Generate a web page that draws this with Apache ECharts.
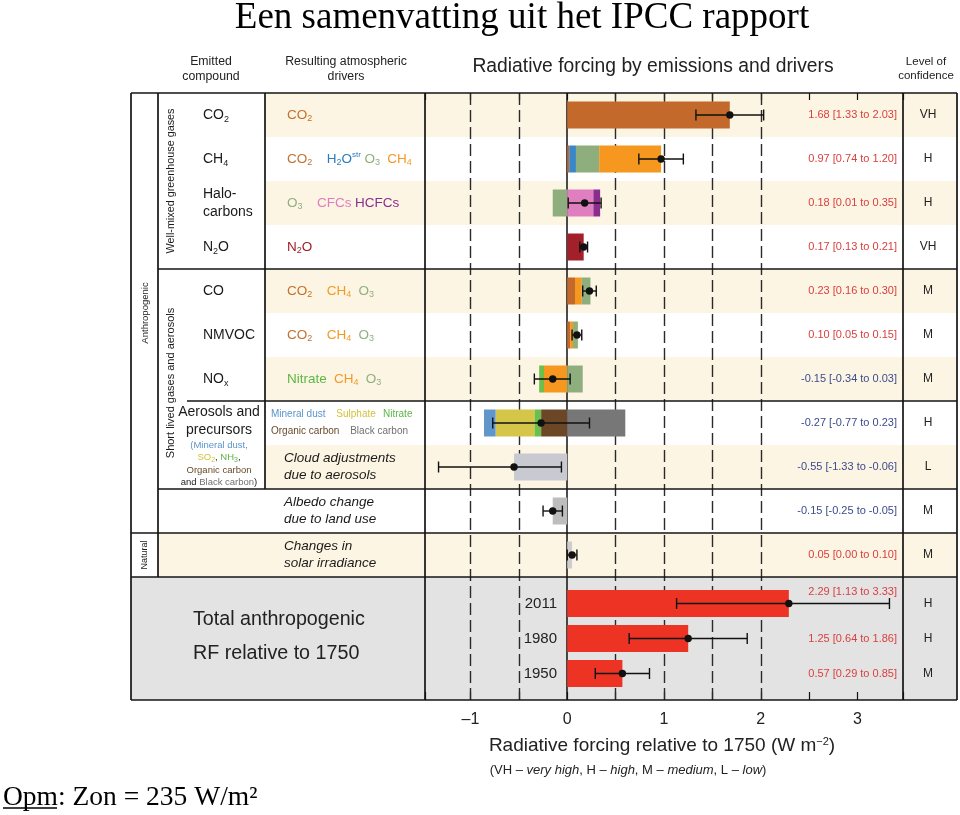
<!DOCTYPE html>
<html><head><meta charset="utf-8">
<script src="https://cdn.jsdelivr.net/npm/echarts@6/dist/echarts.min.js"></script>
<style>html,body{margin:0;padding:0;background:#fff}#c{width:960px;height:815px}</style>
</head><body><div id="c"></div>
<script>
// ---------------- data ----------------
const rows = ['CO2','CH4','Halocarbons','N2O','CO','NMVOC','NOx','Aerosols','Cloud','Albedo','Solar'];
const drvCO2     = [1.68, 0.02, '-', '-', 0.08, 0.03, '-', '-', '-', '-', '-'];
const drvH2Ostr  = ['-', 0.07, '-', '-', '-', '-', '-', '-', '-', '-', '-'];
const drvCH4ind  = ['-', '-', '-', '-', 0.07, 0.03, -0.24, '-', '-', '-', '-'];
const drvO3      = ['-', 0.24, -0.15, '-', 0.09, 0.05, 0.16, '-', '-', '-', '-'];
const drvCH4     = ['-', 0.64, '-', '-', '-', '-', '-', '-', '-', '-', '-'];
const drvCFCs    = ['-', '-', 0.27, '-', '-', '-', '-', '-', '-', '-', '-'];
const drvHCFCs   = ['-', '-', 0.07, '-', '-', '-', '-', '-', '-', '-', '-'];
const drvN2O     = ['-', '-', '-', 0.17, '-', '-', '-', '-', '-', '-', '-'];
const drvOrgC    = ['-', '-', '-', '-', '-', '-', '-', -0.27, '-', '-', '-'];
const drvNitrate = ['-', '-', '-', '-', '-', '-', -0.05, -0.07, '-', '-', '-'];
const drvSulph   = ['-', '-', '-', '-', '-', '-', '-', -0.40, '-', '-', '-'];
const drvDust    = ['-', '-', '-', '-', '-', '-', '-', -0.12, '-', '-', '-'];
const drvBlackC  = ['-', '-', '-', '-', '-', '-', '-', 0.60, '-', '-', '-'];
const drvCloud   = ['-', '-', '-', '-', '-', '-', '-', '-', -0.55, '-', '-'];
const drvAlbedo  = ['-', '-', '-', '-', '-', '-', '-', '-', '-', -0.15, '-'];
const drvSolar   = ['-', '-', '-', '-', '-', '-', '-', '-', '-', '-', 0.05];
const rfBest = [1.68, 0.97, 0.18, 0.17, 0.23, 0.10, -0.15, -0.27, -0.55, -0.15, 0.05];
const rfLow  = [1.33, 0.74, 0.01, 0.13, 0.16, 0.05, -0.34, -0.77, -1.33, -0.25, 0.00];
const rfHigh = [2.03, 1.20, 0.35, 0.21, 0.30, 0.15, 0.03, 0.23, -0.06, -0.05, 0.10];
const confidence = ['VH','H','H','VH','M','M','M','H','L','M','M'];
const years   = ['2011','1980','1950'];
const totBest = [2.29, 1.25, 0.57];
const totLow  = [1.13, 0.64, 0.29];
const totHigh = [3.33, 1.86, 0.85];
const totConf = ['H','H','M'];
const xTickLabels = [-1, 0, 1, 2, 3];
const refLines = [-1, -0.5, 0.5, 1, 1.5, 2];

// ---------------- styles ----------------
const SANS = '"Liberation Sans", Arial, Helvetica, sans-serif';
const SERIF = '"Liberation Serif", "Times New Roman", serif';
const COL = {
  CO2:'#c2692b', H2Ostr:'#3a86c6', O3:'#8fae7d', CH4:'#f6971f', CH4ind:'#f6971f', CFCs:'#df7fbf', HCFCs:'#8b2c8e',
  N2O:'#a1202a', OrgC:'#6c4727', Nitrate:'#6cbf4a', Sulph:'#d5c64a', Dust:'#5f97cb', BlackC:'#777777',
  Cloud:'#c9c9d2', Albedo:'#bdbdbd', Solar:'#cdcdcd', Total:'#ec3324'
};
const drivers = [
  ['CO2', drvCO2], ['H2Ostr', drvH2Ostr], ['CH4ind', drvCH4ind], ['O3', drvO3], ['CH4', drvCH4], ['CFCs', drvCFCs],
  ['HCFCs', drvHCFCs], ['N2O', drvN2O], ['OrgC', drvOrgC], ['Nitrate', drvNitrate], ['Sulph', drvSulph],
  ['Dust', drvDust], ['BlackC', drvBlackC], ['Cloud', drvCloud], ['Albedo', drvAlbedo], ['Solar', drvSolar]
];
const RED = '#d9403f', BLUE = '#3b4b8e';
const fmt = v => v.toFixed(2);
const valueLabel = (b, l, h, up) => `{${(b < 0 ? 'b' : 'r') + (up ? 'u' : '')}|${fmt(b)} [${fmt(l)} to ${fmt(h)}]}`;
const VALRICH = {
  r:{color:RED, fontSize:11, fontFamily:SANS}, b:{color:BLUE, fontSize:11, fontFamily:SANS},
  ru:{color:RED, fontSize:11, fontFamily:SANS, padding:[0,0,23,0]}, bu:{color:BLUE, fontSize:11, fontFamily:SANS, padding:[0,0,23,0]}
};

function errRender(params, api) {
  const y = api.value(1);
  const pB = api.coord([api.value(0), y]);
  const pL = api.coord([api.value(2), y]);
  const pH = api.coord([api.value(3), y]);
  const h = 5.5, st = {stroke:'#111', lineWidth:1.4};
  return {type:'group', children:[
    {type:'line', shape:{x1:pL[0], y1:pB[1], x2:pH[0], y2:pB[1]}, style:st},
    {type:'line', shape:{x1:pL[0], y1:pB[1]-h, x2:pL[0], y2:pB[1]+h}, style:st},
    {type:'line', shape:{x1:pH[0], y1:pB[1]-h, x2:pH[0], y2:pB[1]+h}, style:st},
    {type:'circle', shape:{cx:pB[0], cy:pB[1], r:3.7}, style:{fill:'#111'}}
  ]};
}

const XMIN = -1.47, XMAX = 3.47;
const hiddenCat = (gi, data) => ({gridIndex:gi, type:'category', data, inverse:true,
  axisLine:{show:false}, axisTick:{show:false}, splitLine:{show:false}, axisLabel:{show:false}});

const chart = echarts.init(document.getElementById('c'), null, {renderer:'canvas'});
const option = {
  animation:false,
  backgroundColor:'#fff',
  textStyle:{fontFamily:SANS},
  grid:[
    {left:425, width:478, top:93, height:484},
    {left:425, width:478, top:586, height:105},
    {left:425, width:478, top:93, height:607}
  ],
  xAxis:[
    {gridIndex:0, type:'value', min:XMIN, max:XMAX, show:false},
    {gridIndex:1, type:'value', min:XMIN, max:XMAX, show:false},
    {gridIndex:2, type:'value', min:XMIN, max:XMAX, splitNumber:10, position:'bottom',
      axisLine:{show:false}, splitLine:{show:false},
      axisTick:{inside:true, length:8, lineStyle:{color:'#111', width:1.2}},
      axisLabel:{fontSize:16, color:'#222', margin:12, fontFamily:SANS,
        formatter:v => xTickLabels.includes(v) ? (v < 0 ? '\u2013' + Math.abs(v) : String(v)) : ''}},
    {gridIndex:2, type:'value', min:XMIN, max:XMAX, splitNumber:10, position:'top',
      axisLine:{show:false}, splitLine:{show:false}, axisLabel:{show:false},
      axisTick:{inside:true, length:7, lineStyle:{color:'#111', width:1.2}}}
  ],
  yAxis:[
    hiddenCat(0, rows),
    Object.assign(hiddenCat(0, rows), {position:'right',
      axisLabel:{show:true, interval:0, inside:true, align:'right', margin:6, rich:VALRICH,
        formatter:(v, i) => valueLabel(rfBest[i], rfLow[i], rfHigh[i], false)}}),
    Object.assign(hiddenCat(0, rows), {position:'right',
      axisLabel:{show:true, interval:0, align:'center', margin:25, fontSize:12, color:'#222',
        formatter:(v, i) => confidence[i]}}),
    Object.assign(hiddenCat(1, years), {position:'left', offset:-142,
      axisLabel:{show:true, interval:0, margin:10, fontSize:15, color:'#222'}}),
    Object.assign(hiddenCat(1, years), {position:'right',
      axisLabel:{show:true, interval:0, inside:true, align:'right', margin:6, rich:VALRICH,
        formatter:(v, i) => valueLabel(totBest[i], totLow[i], totHigh[i], i === 0)}}),
    Object.assign(hiddenCat(1, years), {position:'right',
      axisLabel:{show:true, interval:0, align:'center', margin:25, fontSize:12, color:'#222',
        formatter:(v, i) => totConf[i]}}),
    {gridIndex:2, type:'value', min:0, max:1, show:false}
  ],
  series:[
    {type:'line', xAxisIndex:2, yAxisIndex:6, data:[], z:1, silent:true,
      markLine:{silent:true, symbol:['none','none'], z:1, label:{show:false}, emphasis:{disabled:true},
        data: refLines.map(v => ({xAxis:v, lineStyle:{type:[12,5], color:'#2a2a2a', width:1.4}}))
          .concat([{xAxis:0, lineStyle:{type:'solid', color:'#111', width:1.5}}])}},
    ...drivers.map(([k, arr]) => ({type:'bar', name:k, stack:'rf', xAxisIndex:0, yAxisIndex:0,
      data:arr, barWidth:27, itemStyle:{color:COL[k]}, z:2, silent:true})),
    {type:'bar', name:'Total', xAxisIndex:1, yAxisIndex:3, data:totBest, barWidth:27,
      itemStyle:{color:COL.Total}, z:2, silent:true},
    {type:'custom', xAxisIndex:0, yAxisIndex:0, renderItem:errRender, encode:{x:[0,2,3], y:1},
      data: rows.map((r, i) => [rfBest[i], i, rfLow[i], rfHigh[i]]), z:4, silent:true},
    {type:'custom', xAxisIndex:1, yAxisIndex:3, renderItem:errRender, encode:{x:[0,2,3], y:1},
      data: years.map((r, i) => [totBest[i], i, totLow[i], totHigh[i]]), z:4, silent:true}
  ]
};
chart.setOption(option);

// ---------------- table layout (graphic) ----------------
const ry = i => chart.convertToPixel({yAxisIndex:0}, rows[i]);
const band = ry(1) - ry(0);
const bnd = k => (k < rows.length ? ry(k) - band / 2 : ry(rows.length - 1) + band / 2);
const X0 = 131, X1 = 158, X2 = 265, X3 = 425, X4 = 903, X5 = 957, XS = 187;
const TOP = bnd(0), BOT = 700;
const CREAM = '#fdf5e3', GREY = '#e3e3e3';

const line = (x1, y1, x2, y2, w) => ({type:'line', z:10, silent:true, shape:{x1, y1, x2, y2},
  style:{stroke:'#141414', lineWidth:w || 1.7}});
const rect = (x, y, w, h, fill) => ({type:'rect', z:-5, silent:true, shape:{x, y, width:w, height:h}, style:{fill}});
const T = (x, y, text, st, extra) => Object.assign({type:'text', z:12, silent:true, x, y,
  style:Object.assign({text, fill:'#1a1a1a', fontFamily:SANS, fontSize:13, align:'left', verticalAlign:'middle'}, st || {})}, extra || {});

const DC = {co2:'#c4702f', h2o:'#2b7bbf', o3:'#8fb07e', ch4:'#f39a26', cfc:'#e07cbd', hcfc:'#8c2d8e',
  n2o:'#9e1f27', nit:'#5db646', dust:'#5a94cd', sul:'#d3c13c', oc:'#6a4a2b', bc:'#707070', k:'#222'};
const drvRich = {};
for (const [k, c] of Object.entries(DC)) {
  drvRich[k] = {fill:c, fontSize:13.5, fontFamily:SANS};
  drvRich[k + '_s'] = {fill:c, fontSize:9, fontFamily:SANS, verticalAlign:'bottom', padding:[7,0,0,0]};
  drvRich[k + '_u'] = {fill:c, fontSize:8, fontFamily:SANS, verticalAlign:'top'};
  drvRich[k + '_m'] = {fill:c, fontSize:10, fontFamily:SANS, lineHeight:17};
  drvRich[k + '_a'] = {fill:c, fontSize:9.5, fontFamily:SANS, lineHeight:12.5};
  drvRich[k + '_as'] = {fill:c, fontSize:7, fontFamily:SANS, lineHeight:12.5, verticalAlign:'bottom'};
}
drvRich.A = {fill:'#1a1a1a', fontSize:14, fontFamily:SANS, lineHeight:18};
drvRich.it = {fill:'#1a1a1a', fontSize:13.5, fontFamily:SANS, fontStyle:'italic', lineHeight:17};

const emitted = ['CO{k_s|2}', 'CH{k_s|4}', 'Halo-\ncarbons', 'N{k_s|2}O', 'CO', 'NMVOC', 'NO{k_s|x}'];
const driverText = [
  '{co2|CO}{co2_s|2}',
  '{co2|CO}{co2_s|2}    {h2o|H}{h2o_s|2}{h2o|O}{h2o_u|str} {o3|O}{o3_s|3}  {ch4|CH}{ch4_s|4}',
  '{o3|O}{o3_s|3}    {cfc|CFCs} {hcfc|HCFCs}',
  '{n2o|N}{n2o_s|2}{n2o|O}',
  '{co2|CO}{co2_s|2}    {ch4|CH}{ch4_s|4}  {o3|O}{o3_s|3}',
  '{co2|CO}{co2_s|2}    {ch4|CH}{ch4_s|4}  {o3|O}{o3_s|3}',
  '{nit|Nitrate}  {ch4|CH}{ch4_s|4}  {o3|O}{o3_s|3}',
  '{dust_m|Mineral dust}   {sul_m|Sulphate}  {nit_m|Nitrate}\n{oc_m|Organic carbon}   {bc_m|Black carbon}',
  '{it|Cloud adjustments}\n{it|due to aerosols}',
  '{it|Albedo change}\n{it|due to land use}',
  '{it|Changes in}\n{it|solar irradiance}'
];
const driverX = [287, 287, 287, 287, 287, 287, 287, 271, 284, 284, 284];

const els = [];
rows.forEach((r, i) => {
  if (i % 2 === 0) {
    const x = i === rows.length - 1 ? X1 : X2;
    els.push(rect(x, bnd(i), X5 - x, band, CREAM));
  }
});
els.push(rect(X0, bnd(rows.length), X5 - X0, BOT - bnd(rows.length), GREY));
els.push(line(X0, TOP, X5, TOP), line(X0, BOT, X5, BOT));
els.push(line(X0, TOP, X0, BOT), line(X5, TOP, X5, BOT), line(X3, TOP, X3, BOT), line(X4, TOP, X4, BOT));
els.push(line(X1, TOP, X1, bnd(11)), line(X2, TOP, X2, bnd(9)));
els.push(line(X1, bnd(4), X5, bnd(4)), line(XS, bnd(7), X5, bnd(7)), line(X1, bnd(9), X5, bnd(9)));
els.push(line(X0, bnd(10), X5, bnd(10)), line(X0, bnd(11), X5, bnd(11)));
const vt = (x, y, text, fs) => T(x, y, text, {fontSize:fs, align:'center'}, {rotation:Math.PI / 2});
els.push(vt(145, (TOP + bnd(10)) / 2, 'Anthropogenic', 9.5));
els.push(vt(145, (bnd(10) + bnd(11)) / 2, 'Natural', 9));
els.push(vt(171, (TOP + bnd(4)) / 2, 'Well-mixed greenhouse gases', 10.8));
els.push(vt(171, (bnd(4) + bnd(9)) / 2 + 4, 'Short lived gases and aerosols', 11));
emitted.forEach((t, i) => els.push(T(203, ry(i), t, {fontSize:14, lineHeight:18, rich:drvRich})));
els.push(T(219, (bnd(7) + bnd(9)) / 2 + 1,
  '{A|Aerosols and}\n{A|precursors}\n{dust_a|(Mineral dust,}\n{sul_a|SO}{sul_as|2}{k_a|, }{nit_a|NH}{nit_as|3}{k_a|,}\n{oc_a|Organic carbon}\n{k_a|and }{bc_a|Black carbon}{k_a|)}',
  {align:'center', rich:drvRich}));
driverText.forEach((t, i) => els.push(T(driverX[i], ry(i), t, {rich:drvRich})));
els.push(T(193, (bnd(11) + BOT) / 2 - 2, 'Total anthropogenic\nRF relative to 1750', {fontSize:19.7, lineHeight:34, fill:'#222'}));
els.push(T(211, 69, 'Emitted\ncompound', {fontSize:12.3, lineHeight:15, align:'center', fill:'#222'}));
els.push(T(346, 69, 'Resulting atmospheric\ndrivers', {fontSize:12.3, lineHeight:15, align:'center', fill:'#222'}));
els.push(T(653, 67, 'Radiative forcing by emissions and drivers', {fontSize:19.3, align:'center', fill:'#222'}));
els.push(T(926, 69, 'Level of\nconfidence', {fontSize:11.5, lineHeight:14, align:'center', fill:'#222'}));
els.push(T(662, 746, 'Radiative forcing relative to 1750 (W m{sup|\u22122})',
  {fontSize:19, align:'center', fill:'#222', rich:{sup:{fontSize:11, fill:'#222', fontFamily:SANS, verticalAlign:'top'}}}));
els.push(T(628, 770, '(VH \u2013 {i|very high}, H \u2013 {i|high}, M \u2013 {i|medium}, L \u2013 {i|low})',
  {fontSize:13, align:'center', fill:'#222', rich:{i:{fontSize:13, fontStyle:'italic', fill:'#222', fontFamily:SANS}}}));
els.push(T(522, 18, 'Een samenvatting uit het IPCC rapport', {fontSize:37, fontFamily:SERIF, align:'center', fill:'#000'}));
els.push(T(3, 798, 'Opm: Zon = 235 W/m\u00b2', {fontSize:27.5, fontFamily:SERIF, fill:'#000'}));
els.push({type:'line', z:12, silent:true, shape:{x1:3, y1:808, x2:57, y2:808}, style:{stroke:'#000', lineWidth:1.3}});

chart.setOption({graphic:{elements:els}});
</script></body></html>
